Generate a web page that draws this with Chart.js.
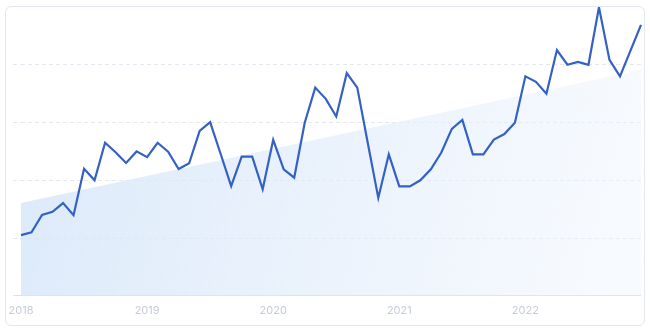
<!DOCTYPE html>
<html lang="en">
<head>
    <meta charset="UTF-8">
    <title>Monthly trend</title>
    <script src="https://cdn.jsdelivr.net/npm/chart.js"></script>
    <style>
        body { margin: 0; background: #fff; }
        .card {
            position: absolute; left: 5px; top: 6px; width: 640px; height: 320px;
            box-sizing: border-box; border: 1px solid #e3e7ee; border-radius: 6px;
        }
        #trendChart { position: absolute; left: 0; top: 0; }
    </style>
</head>
<body>
<div class="card"></div>
<canvas id="trendChart" width="650" height="333"></canvas>

<script>
    const years = ['2018', '2019', '2020', '2021', '2022'];

    // one value per month, Jan 2018 .. Dec 2022
    const monthly = [
        21.0, 22.0, 28.0, 29.1, 32.1, 27.9, 44.0, 40.0, 53.0, 49.7, 46.0, 50.0,
        48.0, 53.0, 49.9, 43.9, 45.9, 57.1, 60.1, 49.1, 38.0, 48.2, 48.2, 36.9,
        54.0, 43.8, 40.9, 59.9, 72.1, 68.2, 62.1, 77.1, 72.1, 52.9, 33.9, 49.0,
        37.9, 37.9, 40.0, 43.8, 49.6, 57.8, 60.9, 49.0, 49.0, 54.1, 56.0, 59.9,
        76.0, 74.1, 70.0, 85.1, 80.0, 81.0, 80.0, 99.9, 81.7, 76.0, 84.9, 93.8
    ];

    // trend band: start and end value
    const trendEnds = [32.1, 78.3];

    const yTicks = [0, 20, 40, 60, 80, 100];

    const labels = [];
    years.forEach(y => {
        for (let m = 1; m <= 12; m++) labels.push(y + '-' + String(m).padStart(2, '0'));
    });

    function bandFill(context) {
        const { ctx, chartArea } = context.chart;
        if (!chartArea) return 'rgba(220,234,250,0.8)';
        const g = ctx.createLinearGradient(chartArea.left, chartArea.top + 120, chartArea.right, chartArea.bottom);
        g.addColorStop(0, 'rgba(214,230,249,0.85)');
        g.addColorStop(0.55, 'rgba(226,237,251,0.65)');
        g.addColorStop(1, 'rgba(240,246,253,0.45)');
        return g;
    }

    const gridDash = ctx => (ctx.tick && ctx.tick.value === 0) ? [] : [4, 3];

    new Chart(document.getElementById('trendChart'), {
        type: 'line',
        data: {
            labels: labels,
            datasets: [
                {
                    data: monthly,
                    borderColor: '#3461c4',
                    borderWidth: 2.2,
                    pointRadius: 0,
                    tension: 0,
                    fill: false
                },
                {
                    data: [
                        { x: labels[0], y: trendEnds[0] },
                        { x: labels[labels.length - 1], y: trendEnds[1] }
                    ],
                    borderWidth: 0,
                    borderColor: 'rgba(0,0,0,0)',
                    pointRadius: 0,
                    backgroundColor: bandFill,
                    fill: 'origin'
                }
            ]
        },
        options: {
            responsive: false,
            animation: false,
            layout: { padding: { left: 13, right: 9, top: 7, bottom: 8 } },
            plugins: { legend: { display: false }, tooltip: { enabled: false } },
            scales: {
                x: {
                    grid: { display: false, drawTicks: false },
                    border: { display: false },
                    ticks: {
                        autoSkip: false,
                        maxRotation: 0,
                        padding: 8,
                        color: '#c6ccd7',
                        font: { family: 'Inter', size: 11 },
                        callback: function (val, i) {
                            return i % 12 === 0 ? labels[i].slice(0, 4) : '';
                        }
                    }
                },
                y: {
                    min: yTicks[0],
                    max: yTicks[yTicks.length - 1],
                    afterBuildTicks: axis => { axis.ticks = yTicks.map(v => ({ value: v })); },
                    ticks: { display: false },
                    border: { display: false, dash: gridDash },
                    grid: {
                        color: ctx => ctx.tick.value === 100 ? 'rgba(0,0,0,0)' : (ctx.tick.value === 0 ? '#dde2ea' : '#e3e7ee'),
                        tickColor: ctx => ctx.tick.value === 100 ? 'rgba(0,0,0,0)' : (ctx.tick.value === 0 ? '#dde2ea' : '#e3e7ee'),
                        tickBorderDash: gridDash,
                        tickLength: 8,
                        lineWidth: 1
                    }
                }
            }
        }
    });
</script>
</body>
</html>
